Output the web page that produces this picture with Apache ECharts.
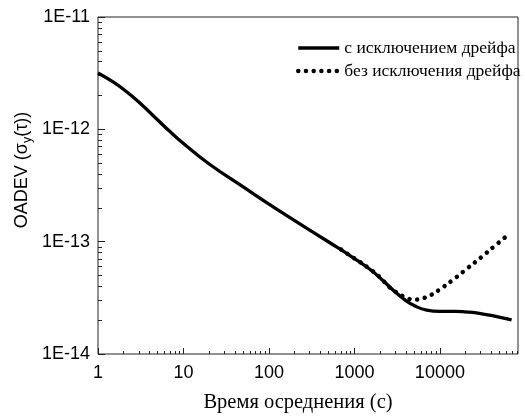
<!DOCTYPE html>
<html>
<head>
<meta charset="utf-8">
<script src="https://cdn.jsdelivr.net/npm/echarts@6/dist/echarts.min.js"></script>
<style>
  html, body { margin: 0; padding: 0; background: #fff; }
  #chart { width: 525px; height: 418px; }
</style>
</head>
<body>
<div id="chart"></div>
<script>
// averaging time, s
const tauSolid = [1, 1.5, 2, 3, 5, 7, 10, 20, 50, 100, 200, 500, 1000, 1500, 2000, 3000, 4000, 5000, 7000, 10000, 15000, 20000, 30000, 45000, 69000]
const valSolid = [3.17e-12, 2.64e-12, 2.26e-12, 1.75e-12, 1.21e-12, 9.5e-13, 7.48e-13, 4.91e-13, 3.07e-13, 2.16e-13, 1.54e-13, 9.93e-14, 7.08e-14, 5.71e-14, 4.75e-14, 3.56e-14, 2.99e-14, 2.70e-14, 2.46e-14, 2.40e-14, 2.40e-14, 2.37e-14, 2.29e-14, 2.16e-14, 2.01e-14]

// the part below ~700 s lies under the solid curve and is not visible
const tauDrift = [700, 1000, 1500, 2000, 2600, 3250, 4000, 5000, 6300, 7850, 9650, 14100, 20900, 30700, 44000, 63000]
const valDrift = [8.5e-14, 7.1e-14, 5.75e-14, 4.8e-14, 3.9e-14, 3.47e-14, 3.18e-14, 3.05e-14, 3.13e-14, 3.35e-14, 3.7e-14, 4.55e-14, 5.78e-14, 7.3e-14, 9.2e-14, 1.15e-13]

const seriesNames = ['с исключением дрейфа', 'без исключения дрейфа']

const xMajor = [1, 10, 100, 1000, 10000]
const yMajor = [1e-14, 1e-13, 1e-12, 1e-11]

// 2..9 inside each decade
const minorOf = (decades) => {
    let out = []
    decades.forEach(d => {
        for (let k = 2; k <= 9; k++) out.push(d * k)
    })
    return out
}
const xMinor = minorOf([1, 10, 100, 1000, 10000])
const yMinor = minorOf([1e-14, 1e-13, 1e-12])

const X_MIN = 1, X_MAX = 82000
const Y_MIN = 1e-14, Y_MAX = 1e-11

const sans = 'Liberation Sans'
const serif = 'Liberation Serif'

const chart = echarts.init(document.getElementById('chart'))

const pair = (xs, ys) => xs.map((x, i) => [x, ys[i]])

const baseX = {
    type: 'log',
    min: X_MIN,
    max: X_MAX,
    position: 'bottom',
    offset: 0,
    splitLine: { show: false },
    axisLine: { show: false }
}
const baseY = {
    type: 'log',
    min: Y_MIN,
    max: Y_MAX,
    position: 'left',
    offset: 0,
    splitLine: { show: false },
    axisLine: { show: false }
}

const dotStyle = { color: '#000', width: 4.5, type: [0.01, 7.7], cap: 'round' }
const solidStyle = { color: '#000', width: 3.3, join: 'round' }

let option = {
    animation: false,
    backgroundColor: '#fff',
    grid: {
        left: 98,
        right: 7,
        top: 17,
        bottom: 64,
        show: true,
        borderColor: '#222',
        borderWidth: 1,
        backgroundColor: 'transparent'
    },
    legend: {
        orient: 'vertical',
        left: 291,
        top: 34,
        itemWidth: 41,
        itemHeight: 16,
        itemGap: 5,
        selectedMode: false,
        itemStyle: { opacity: 0 },
        textStyle: { fontFamily: serif, fontSize: 17.5, color: '#000' },
        data: [
            { name: seriesNames[0], lineStyle: { width: 3.3 } },
            { name: seriesNames[1], lineStyle: { width: 4.5 } }
        ]
    },
    xAxis: [
        Object.assign({}, baseX, {
            axisTick: { show: true, inside: true, length: 3, customValues: xMinor, lineStyle: { color: '#222' } },
            axisLabel: {
                show: true,
                margin: 10,
                customValues: xMajor,
                fontFamily: sans,
                fontSize: 18,
                color: '#000',
                formatter: v => String(Math.round(v))
            }
        }),
        Object.assign({}, baseX, {
            axisTick: { show: true, inside: true, length: 6, customValues: xMajor, lineStyle: { color: '#222' } },
            axisLabel: { show: false }
        })
    ],
    yAxis: [
        Object.assign({}, baseY, {
            axisTick: { show: true, inside: true, length: 4, customValues: yMinor, lineStyle: { color: '#222' } },
            axisLabel: {
                show: true,
                margin: 8,
                customValues: yMajor,
                fontFamily: sans,
                fontSize: 18,
                color: '#000',
                formatter: v => '1E' + Math.round(Math.log10(v))
            }
        }),
        Object.assign({}, baseY, {
            axisTick: { show: true, inside: true, length: 7, customValues: yMajor, lineStyle: { color: '#222' } },
            axisLabel: { show: false }
        })
    ],
    graphic: [
        {
            type: 'text',
            x: 298,
            y: 392,
            style: {
                text: 'Время осреднения (с)',
                fontFamily: serif,
                fontSize: 20.5,
                fill: '#000',
                align: 'center'
            }
        },
        {
            type: 'text',
            x: 10,
            y: 170,
            rotation: Math.PI / 2,
            style: {
                text: '{a|OADEV (σ}{s|y}{a|(τ))}',
                align: 'center',
                verticalAlign: 'top',
                rich: {
                    a: { fontFamily: sans, fontSize: 18, fill: '#000', verticalAlign: 'bottom', lineHeight: 21 },
                    s: { fontFamily: sans, fontSize: 12.5, fill: '#000', verticalAlign: 'bottom', lineHeight: 14, padding: [0, 0, -3, 0] }
                }
            }
        }
    ],
    series: [
        {
            name: seriesNames[1],
            type: 'line',
            xAxisIndex: 0,
            yAxisIndex: 0,
            data: pair(tauDrift, valDrift),
            smooth: 0.5,
            symbol: 'none',
            color: '#000',
            lineStyle: dotStyle
        },
        {
            name: seriesNames[0],
            type: 'line',
            xAxisIndex: 0,
            yAxisIndex: 0,
            data: pair(tauSolid, valSolid),
            smooth: 0.5,
            symbol: 'none',
            color: '#000',
            lineStyle: solidStyle
        }
    ]
}

chart.setOption(option)
</script>
</body>
</html>
